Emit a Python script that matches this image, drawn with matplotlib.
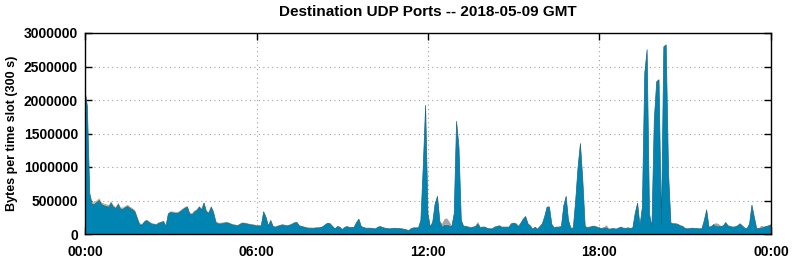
import numpy as np
import matplotlib
matplotlib.use("Agg")
import matplotlib.pyplot as plt

plt.rcParams["font.family"] = ["Liberation Sans", "DejaVu Sans"]
plt.rcParams["font.weight"] = "bold"

# bytes per 5-minute slot, in thousands (main port), 00:00 .. 24:00
main_port = [
    2150, 1900, 600, 440, 440, 470, 500, 440, 420, 410, 400, 460,
    400, 380, 440, 370, 370, 395, 410, 380, 360, 330, 230, 135,
    135, 180, 200, 170, 150, 140, 135, 160, 170, 185, 115, 300,
    320, 315, 310, 310, 330, 360, 385, 400, 300, 290, 330, 350,
    400, 360, 460, 330, 310, 400, 320, 170, 150, 150, 155, 165,
    165, 150, 135, 130, 120, 140, 160, 155, 150, 140, 135, 130,
    120, 120, 120, 330, 250, 120, 200, 110, 100, 115, 125, 135,
    125, 120, 130, 145, 165, 170, 120, 110, 100, 90, 85, 85,
    85, 90, 90, 95, 110, 140, 160, 150, 110, 75, 110, 100,
    65, 95, 110, 95, 95, 100, 170, 220, 110, 95, 85, 85,
    85, 80, 75, 100, 110, 95, 85, 80, 75, 80, 85, 80,
    80, 75, 70, 60, 50, 80, 90, 90, 90, 200, 1000, 1920,
    300, 100, 180, 450, 560, 180, 100, 130, 130, 120, 110, 300,
    1680, 1300, 200, 110, 110, 100, 90, 100, 110, 150, 90, 100,
    100, 80, 75, 75, 100, 110, 120, 100, 100, 100, 100, 150,
    160, 150, 110, 160, 220, 260, 150, 120, 70, 100, 70, 110,
    150, 260, 400, 400, 140, 90, 100, 100, 110, 420, 560, 200,
    85, 85, 500, 1000, 1350, 800, 110, 90, 100, 110, 110, 100,
    80, 80, 90, 90, 70, 75, 80, 70, 85, 100, 85, 80,
    90, 80, 90, 310, 460, 120, 400, 2400, 2750, 300, 100, 1700,
    2270, 2300, 150, 2790, 2820, 900, 160, 150, 150, 140, 120, 110,
    80, 75, 80, 85, 80, 80, 75, 80, 200, 360, 100, 110,
    140, 110, 110, 110, 120, 170, 120, 110, 100, 105, 120, 150,
    120, 85, 80, 150, 430, 250, 80, 80, 85, 100, 110, 120,
    135,
]

# smaller ports, hourly level (thousands)
red_hourly = [8, 6, 3, 3, 3, 2, 2, 2, 1, 1, 1, 1, 3, 3, 2, 1, 2, 2, 1, 1, 2, 1, 1, 1]
orange_hourly = [6, 5, 3, 4, 4, 3, 3, 3, 2, 2, 2, 2, 3, 3, 3, 2, 3, 3, 2, 2, 3, 2, 2, 2]
green_hourly = [4, 3, 3, 3, 3, 3, 3, 3, 2, 2, 2, 2, 3, 3, 3, 3, 3, 5, 3, 3, 3, 2, 2, 2]
gray_hourly = [14, 10, 5, 8, 8, 4, 4, 3, 3, 3, 3, 3, 4, 4, 3, 3, 3, 3, 5, 4, 4, 5, 5, 4]
# short-lived extra traffic on the gray port: slot -> thousands
gray_bumps = {150: 40, 151: 80, 152: 90, 153: 50, 165: 20, 219: 30, 265: 40, 266: 30, 284: 30}

hour_ticks = [0, 6, 12, 18, 24]
hour_labels = ["00:00", "06:00", "12:00", "18:00", "00:00"]
y_ticks = [0, 500000, 1000000, 1500000, 2000000, 2500000, 3000000]

n = len(main_port)
hours = np.arange(n) * 5 / 60.0


def per_slot(hourly):
    v = np.repeat(hourly, 12)
    return np.append(v, hourly[-1])[:n]


gray = per_slot(gray_hourly).astype(float)
for k, v in gray_bumps.items():
    gray[k] += v

layers = [np.array(main_port, float), per_slot(red_hourly), per_slot(orange_hourly),
          per_slot(green_hourly), gray]
layers = [l * 1000 for l in layers]
colors = ["#0085b3", "#c84a1c", "#e0952c", "#7a9c2c", "#a4a4a4"]

fig = plt.figure(figsize=(7.92, 2.59), dpi=100)
ax = fig.add_axes([85 / 792, 25 / 259, 686 / 792, 201 / 259])

ax.stackplot(hours, *layers, colors=colors, linewidth=0)
ax.plot(hours, layers[0], color="#1f6680", lw=0.5)

ax.set_xlim(0, 24)
ax.set_ylim(0, 3000000)
ax.set_xticks(hour_ticks)
ax.set_xticklabels(hour_labels)
ax.set_yticks(y_ticks)
ax.set_yticklabels([str(t) for t in y_ticks])
ax.tick_params(direction="in", length=5, width=1, top=True, right=True,
               labelsize=10, colors="black", pad=5)
ax.tick_params(axis="x", pad=8)
ax.grid(True, color="#a0a0a0", linestyle=(0, (1, 3)), linewidth=0.8)
ax.set_axisbelow(True)
for s in ax.spines.values():
    s.set_linewidth(1)
    s.set_color("black")

ax.set_ylabel("Bytes per time slot (300 s)", fontsize=9, fontweight="bold", labelpad=4)
ax.set_title("Destination UDP Ports -- 2018-05-09 GMT", fontsize=11,
             fontweight="bold", pad=12)

fig.savefig("out.png", dpi=100, facecolor="white")
